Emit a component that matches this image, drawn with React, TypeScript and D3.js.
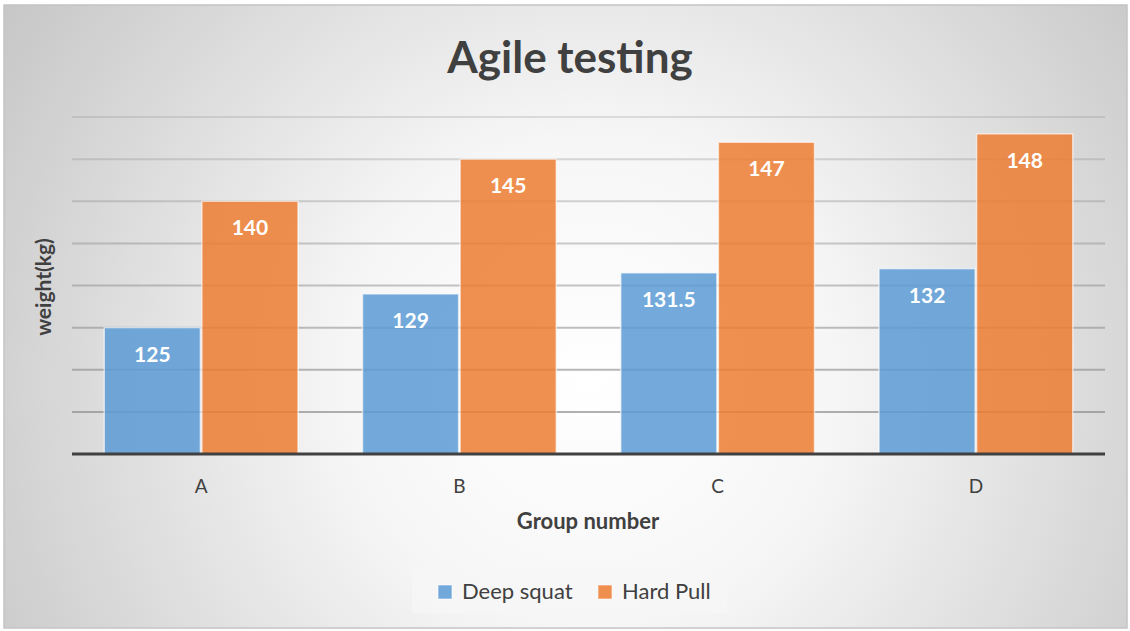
import React from 'react';
import * as d3 from 'd3';

const groups = ['A', 'B', 'C', 'D'];
const seriesNames = ['Deep squat', 'Hard Pull'];
const deepSquat = [125, 129, 131.5, 132];
const hardPull = [140, 145, 147, 148];
const yTicks = [110, 115, 120, 125, 130, 135, 140, 145, 150];

const colors = ['#5b9bd5', '#ed7d31'];
const font = 'Lato, "Open Sans", sans-serif';

const W = 1130;
const H = 631;
const plot = { left: 72, right: 1105, top: 117, bottom: 454 };

const App: React.FC = () => {
  const x = d3
    .scaleBand<string>()
    .domain(groups)
    .range([plot.left, plot.right])
    .paddingInner(0.244)
    .paddingOuter(0.122);

  const x1 = d3
    .scaleBand<string>()
    .domain(seriesNames)
    .range([0, x.bandwidth()])
    .padding(0);

  const y = d3.scaleLinear().domain([110, 150]).range([plot.bottom, plot.top]);

  const series = [deepSquat, hardPull];

  return (
    <svg width={W} height={H} style={{ position: 'absolute', left: 0, top: 0 }}>
      <defs>
        <radialGradient id="bg" gradientUnits="userSpaceOnUse" cx={590} cy={380} r={700}>
          <stop offset="0" stopColor="#ffffff" />
          <stop offset="0.35" stopColor="#f6f6f6" />
          <stop offset="1" stopColor="#c6c6c6" />
        </radialGradient>
      </defs>
      <rect x={4} y={5} width={1123} height={623} fill="url(#bg)" stroke="#c4c4c4" strokeWidth={1.5} />

      <text x={570} y={73} textAnchor="middle" fontFamily={font} fontWeight={700} fontSize={44} fill="#404040">
        Agile testing
      </text>

      {yTicks.slice(1).map((t) => (
        <line
          key={t}
          x1={plot.left}
          x2={plot.right}
          y1={y(t)}
          y2={y(t)}
          stroke="#8c8c8c"
          strokeOpacity={0.25 + 0.5 * (150 - t) / 40}
          strokeWidth={2}
        />
      ))}

      {groups.map((g, gi) => (
        <g key={g} transform={`translate(${x(g)},0)`}>
          {series.map((vals, si) => {
            const bx = x1(seriesNames[si]) || 0;
            const by = y(vals[gi]);
            return (
              <g key={si}>
                <rect
                  x={bx + 0.75}
                  y={by}
                  width={x1.bandwidth() - 1.5}
                  height={plot.bottom - by}
                  fill={colors[si]}
                  fillOpacity={0.85}
                  stroke="#ffffff"
                  strokeOpacity={0.6}
                  strokeWidth={1.5}
                />
                <text
                  x={bx + x1.bandwidth() / 2}
                  y={by + 34}
                  textAnchor="middle"
                  fontFamily={font}
                  fontWeight={700}
                  fontSize={21}
                  fill="#ffffff"
                >
                  {vals[gi]}
                </text>
              </g>
            );
          })}
          <text
            x={x.bandwidth() / 2}
            y={493}
            textAnchor="middle"
            fontFamily={font}
            fontSize={19}
            fill="#404040"
          >
            {g}
          </text>
        </g>
      ))}

      <line x1={plot.left} x2={plot.right} y1={plot.bottom} y2={plot.bottom} stroke="#404040" strokeWidth={3} />

      <text x={588} y={529} textAnchor="middle" fontFamily={font} fontWeight={700} fontSize={22} fill="#404040">
        Group number
      </text>
      <text
        transform={`translate(51,287) rotate(-90)`}
        textAnchor="middle"
        fontFamily={font}
        fontWeight={700}
        fontSize={21}
        fill="#404040"
      >
        weight(kg)
      </text>

      <rect x={412} y={569} width={315} height={44} fill="#f7f7f7" fillOpacity={0.7} />
      {seriesNames.map((name, i) => {
        const lx = i === 0 ? 438 : 598;
        return (
          <g key={name}>
            <rect x={lx} y={585} width={14} height={14} fill={colors[i]} fillOpacity={0.85} stroke="#ffffff" strokeOpacity={0.6} />
            <text x={lx + 24} y={599} fontFamily={font} fontSize={22} fill="#404040">
              {name}
            </text>
          </g>
        );
      })}
    </svg>
  );
};

export default App;
